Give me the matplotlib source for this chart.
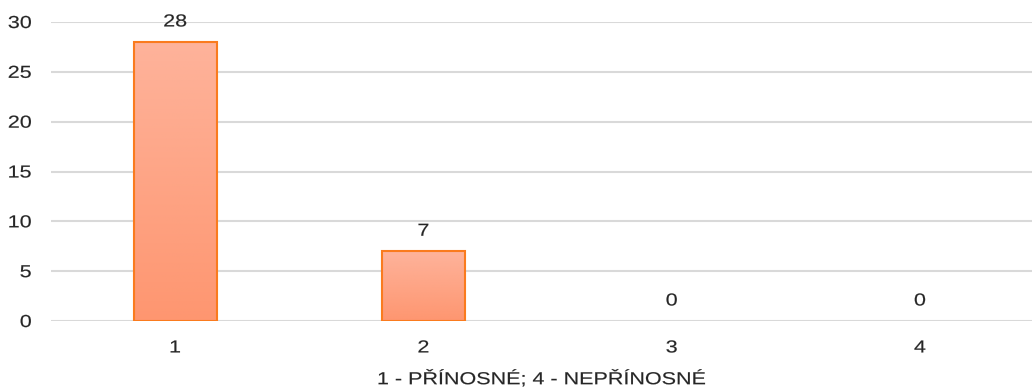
import matplotlib
matplotlib.use("Agg")
import matplotlib.pyplot as plt
import numpy as np
from matplotlib.colors import LinearSegmentedColormap
from matplotlib.patheffects import AbstractPathEffect
from matplotlib.transforms import Affine2D

categories = ["1", "2", "3", "4"]
values = [28, 7, 0, 0]
yticks = [0, 5, 10, 15, 20, 25, 30]
xlabel = "1 - PŘÍNOSNÉ; 4 - NEPŘÍNOSNÉ"

plt.rcParams['font.family'] = ['Liberation Sans', 'DejaVu Sans']

STRETCH = 1.24


class HStretch(AbstractPathEffect):
    """Draw text stretched horizontally (reference glyphs are wider)."""
    def __init__(self, sx, anchor='center'):
        super().__init__()
        self.sx = sx
        self.anchor = anchor

    def draw_path(self, renderer, gc, tpath, affine, rgbFace=None):
        bb = tpath.get_extents(affine)
        if self.anchor == 'right':
            ax0 = bb.x1
        else:
            ax0 = (bb.x0 + bb.x1) / 2
        t = affine + Affine2D().translate(-ax0, 0).scale(self.sx, 1).translate(ax0, 0)
        gc.set_linewidth(0.12)
        renderer.draw_path(gc, tpath, t, rgbFace)


fig = plt.figure(figsize=(10.32, 3.87), dpi=100)
ax = fig.add_axes([51/1032, 1 - 321/387, (1032 - 51)/1032, (321 - 22)/387])

x = np.arange(len(categories))
width = 0.335
edge = '#FA7B1E'
bars = ax.bar(x, values, width=width, facecolor='none',
              edgecolor=[edge if v > 0 else 'none' for v in values],
              linewidth=1.5, zorder=3)

cmap = LinearSegmentedColormap.from_list('g', ['#FE9670', '#FEB39B'])
grad = np.linspace(0, 1, 256).reshape(-1, 1)
for b in bars:
    h = b.get_height()
    if h <= 0:
        continue
    x0 = b.get_x()
    im = ax.imshow(grad, cmap=cmap, origin='lower', aspect='auto',
                   extent=(x0, x0 + b.get_width(), 0, h), zorder=2)
    im.set_clip_path(b)

fs = 12.5
tc = '#262626'
for xi, v in zip(x, values):
    ax.annotate(str(v), (xi, v), xytext=(0, 9), textcoords='offset points',
                ha='center', va='bottom', fontsize=fs, color=tc,
                path_effects=[HStretch(STRETCH)])

ax.set_xlim(-0.5, (1032 - 175) / 248.3)
ax.set_ylim(0, 30)
ax.set_yticks(yticks)
ax.set_xticks(x)
ax.set_xticklabels(categories)
ax.tick_params(axis='both', length=0, labelsize=fs, labelcolor=tc)
ax.tick_params(axis='y', pad=14)
ax.tick_params(axis='x', pad=14)
ax.set_xlabel(xlabel, fontsize=fs, color=tc, labelpad=11,
              path_effects=[HStretch(STRETCH)])
for lab in ax.get_xticklabels():
    lab.set_path_effects([HStretch(STRETCH)])
for lab in ax.get_yticklabels():
    lab.set_path_effects([HStretch(STRETCH, 'right')])
ax.grid(axis='y', color='#D9D9D9', linewidth=1.5, zorder=0)
ax.set_axisbelow(True)
for s in ax.spines.values():
    s.set_visible(False)

fig.savefig('out.png', dpi=100)
